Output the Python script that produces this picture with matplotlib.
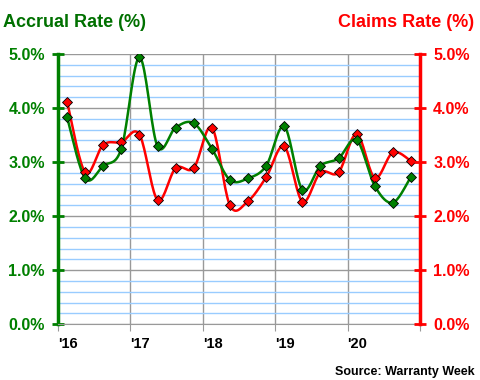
import numpy as np
import matplotlib
matplotlib.use("Agg")
import matplotlib.pyplot as plt
from matplotlib.ticker import MultipleLocator, FuncFormatter

plt.rcParams['font.family'] = ['Liberation Sans', 'DejaVu Sans']

# quarterly data, 2016 Q1 .. 2020 Q4
quarters = np.arange(20)
accrual = [3.83, 2.70, 2.93, 3.25, 4.94, 3.29, 3.64, 3.72, 3.25, 2.67,
           2.70, 2.93, 3.66, 2.49, 2.93, 3.07, 3.41, 2.56, 2.25, 2.73]
claims = [4.12, 2.81, 3.32, 3.37, 3.51, 2.30, 2.89, 2.89, 3.64, 2.20,
          2.28, 2.72, 3.29, 2.27, 2.81, 2.81, 3.52, 2.71, 3.18, 3.02]
year_ticks = [2016, 2017, 2018, 2019, 2020, 2021]
year_labels = ["'16", "'17", "'18", "'19", "'20", ""]

GREEN = '#008000'
RED = '#FF0000'


def smooth(x, y, n=20):
    # catmull-rom curve through the points, like Excel's smoothed line
    x = np.asarray(x, float)
    y = np.asarray(y, float)
    px = np.concatenate([[x[0]], x, [x[-1]]])
    py = np.concatenate([[y[0]], y, [y[-1]]])
    xs, ys = [], []
    t = np.linspace(0, 1, n)
    for i in range(1, len(px) - 2):
        for p, out in ((px, xs), (py, ys)):
            p0, p1, p2, p3 = p[i - 1], p[i], p[i + 1], p[i + 2]
            out.extend(0.5 * (2 * p1 + (-p0 + p2) * t
                              + (2 * p0 - 5 * p1 + 4 * p2 - p3) * t ** 2
                              + (-p0 + 3 * p1 - 3 * p2 + p3) * t ** 3))
    return np.array(xs), np.array(ys)


xq = 2016 + (quarters + 0.5) / 4

fig = plt.figure(figsize=(4.8, 3.8), dpi=100)
ax = fig.add_axes([58 / 480, 1 - 324.3 / 380, (420 - 58) / 480, (324.3 - 54) / 380])
ax2 = ax.twinx()

ax.set_xlim(2016, 2021)
ax.set_ylim(0, 5)
ax2.set_ylim(0, 5)

# grid
ax.yaxis.set_minor_locator(MultipleLocator(0.2))
ax.yaxis.set_major_locator(MultipleLocator(1))
ax.grid(which='minor', axis='y', color='#99CCFF', lw=1)
ax.grid(which='major', axis='y', color='#999999', lw=1)
ax.grid(which='major', axis='x', color='#999999', lw=1)
ax.set_axisbelow(True)

sx, sy = smooth(xq, claims)
ax.plot(sx, sy, color=RED, lw=1.8, zorder=3)
ax.plot(xq, claims, ls='none', marker='D', ms=5, mfc=RED, mec='black', mew=0.6, zorder=4)
sx, sy = smooth(xq, accrual)
ax.plot(sx, sy, color=GREEN, lw=1.8, zorder=3)
ax.plot(xq, accrual, ls='none', marker='D', ms=5, mfc=GREEN, mec='black', mew=0.6, zorder=4)

pct = FuncFormatter(lambda v, _: '%.1f%%' % v)
ax.yaxis.set_major_formatter(pct)
ax2.yaxis.set_major_formatter(pct)
ax.yaxis.set_minor_formatter(FuncFormatter(lambda v, _: ''))
ax2.yaxis.set_major_locator(MultipleLocator(1))

for s in ('top',):
    ax.spines[s].set_visible(False)
    ax2.spines[s].set_visible(False)
ax2.spines['left'].set_visible(False)
ax2.spines['bottom'].set_visible(False)
ax.spines['right'].set_visible(False)
ax.spines['left'].set_color(GREEN)
ax.spines['left'].set_linewidth(2.5)
ax2.spines['right'].set_color(RED)
ax2.spines['right'].set_linewidth(2.5)
ax.spines['bottom'].set_color('#999999')

ax.tick_params(axis='y', which='major', direction='inout', length=9, width=2,
               color=GREEN, labelcolor=GREEN, labelsize=11.5, pad=5)
ax.tick_params(axis='y', which='minor', length=0)
ax2.tick_params(axis='y', which='major', direction='inout', length=9, width=2,
                color=RED, labelcolor=RED, labelsize=11.5, pad=5)
for lab in ax.get_yticklabels() + ax2.get_yticklabels():
    lab.set_fontweight('bold')

ax.set_xticks(year_ticks)
ax.set_xticklabels(year_labels, fontsize=10.5, fontweight='bold', ha='left')
ax.tick_params(axis='x', direction='out', length=5, color='#999999', pad=4)

fig.text(0.006, 0.942, 'Accrual Rate (%)', color='#007000', fontsize=13,
         fontweight='bold', va='center', ha='left')
fig.text(0.988, 0.942, 'Claims Rate (%)', color=RED, fontsize=13,
         fontweight='bold', va='center', ha='right')
fig.text(0.988, 0.022, 'Source: Warranty Week', color='black', fontsize=9,
         fontweight='bold', va='center', ha='right')

fig.savefig('out.png', dpi=100)
